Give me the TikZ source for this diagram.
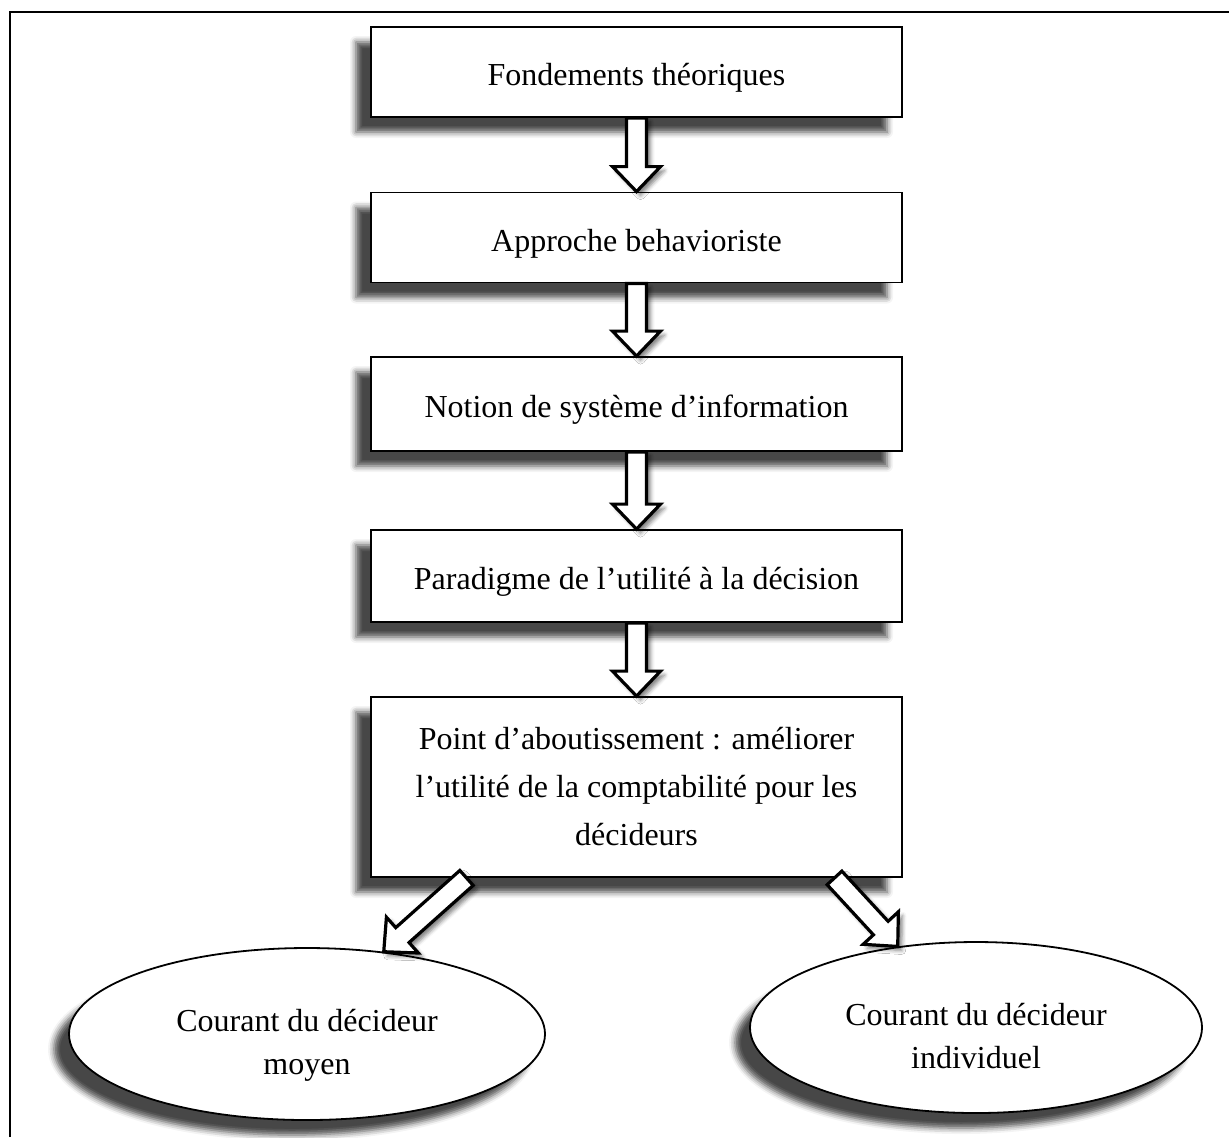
\documentclass[tikz,border=0pt]{standalone}
\usepackage{fontspec}
\setmainfont{Liberation Serif}
\usetikzlibrary{calc,shadows.blur,shapes.geometric}

\tikzset{
  etape/.style={draw=black,line width=0.9pt,fill=white,
    minimum width=265.5pt,minimum height=45pt,align=center,
    font=\fontsize{16}{24}\selectfont,
    blur shadow={shadow xshift=-7.5pt,shadow yshift=-7.5pt,
      shadow blur radius=3pt,shadow opacity=72}},
  ligne/.style={text height=17pt,text depth=3.5pt},
  courant/.style={ellipse,draw=black,line width=0.9pt,fill=white,
    inner sep=0pt,align=center,font=\fontsize{16}{21.5}\selectfont,
    blur shadow={shadow xshift=-7.5pt,shadow yshift=-7.5pt,
      shadow blur radius=3pt,shadow opacity=72}},
  % grosse fleche creuse
  fleche/.style={draw=black,line width=1.6pt,fill=white,line join=miter,
    blur shadow={shadow xshift=2pt,shadow yshift=-2pt,
      shadow blur radius=2pt,shadow opacity=50},
    to path={let \p1=(\tikztostart),\p2=(\tikztotarget),
      \n1={atan2(\y2-\y1,\x2-\x1)} in
      ($(\p1)+({\n1+90}:5pt)$)
      -- ($(\p2)+({\n1+180}:12.5pt)+({\n1+90}:5pt)$)
      -- ($(\p2)+({\n1+180}:12.5pt)+({\n1+90}:12pt)$)
      -- (\p2)
      -- ($(\p2)+({\n1+180}:12.5pt)+({\n1-90}:12pt)$)
      -- ($(\p2)+({\n1+180}:12.5pt)+({\n1-90}:5pt)$)
      -- ($(\p1)+({\n1-90}:5pt)$) -- cycle}}
}

\begin{document}
\begin{tikzpicture}[x=0.5pt,y=-0.5pt]
\useasboundingbox (0,0) rectangle (1229,1137);
\draw[line width=1.2pt] (10,1137) -- (10,12) -- (1229,12);

% les etapes
\node[etape,ligne] (fond) at (636.5,72) {Fondements théoriques};
\node[etape,ligne] (appr) at (636.5,237.5) {Approche behavioriste};
\node[etape,ligne,minimum height=47pt] (notion) at (636.5,404) {Notion de système d’information};
\node[etape,ligne,minimum height=46pt] (parad) at (636.5,576) {Paradigme de l’utilité à la décision};
\node[etape,minimum height=90pt] (point) at (636.5,787)
  {Point d’aboutissement : améliorer\\l’utilité de la comptabilité pour les\\décideurs};

% les deux courants
\node[courant,minimum width=238pt,minimum height=86pt] (moyen) at (307,1034)
  {\rule{0pt}{22pt}Courant du décideur\\moyen};
\node[courant,minimum width=226pt,minimum height=85.5pt] (indiv) at (976,1027.5)
  {\rule{0pt}{20pt}Courant du décideur\\individuel};

% fleches
\draw[fleche] (fond.south) to (appr.north);
\draw[fleche] (appr.south) to (notion.north);
\draw[fleche] (notion.south) to (parad.north);
\draw[fleche] (parad.south) to (point.north);
\draw[fleche] ([xshift=-85pt]point.south) to (moyen.47);
\draw[fleche] ([xshift=99pt]point.south) to (indiv.134);
\end{tikzpicture}
\end{document}
